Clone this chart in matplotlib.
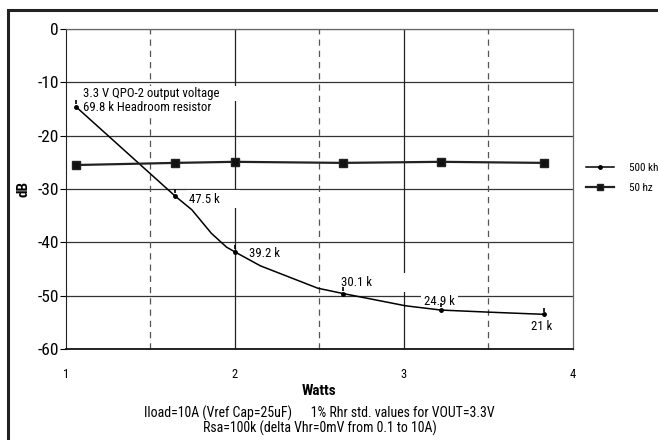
import matplotlib
matplotlib.use("Agg")
import matplotlib.pyplot as plt
from matplotlib.patches import Rectangle
from matplotlib.lines import Line2D

plt.rcParams['font.family'] = ['Roboto Condensed', 'DejaVu Sans']
plt.rcParams['axes.unicode_minus'] = False

# 500 kh curve as traced (line vertices) and its marked points
curve_x = [1.06, 1.645, 1.745, 1.86, 1.95, 2.0, 2.15, 2.49, 2.64, 3.01, 3.22, 3.51, 3.83]
curve_y = [-14.6, -31.3, -33.9, -38.3, -40.9, -41.8, -44.4, -48.6, -49.6, -51.9, -52.7, -53.1, -53.5]
pts_x = [1.06, 1.645, 2.0, 2.64, 3.22, 3.83]
pts_y = [-14.6, -31.3, -41.8, -49.6, -52.7, -53.5]
labels = ["", "47.5 k", "39.2 k", "30.1 k", "24.9 k", "21 k"]

# 50 hz series
hz_x = [1.06, 1.645, 2.0, 2.64, 3.22, 3.83]
hz_y = [-25.5, -25.1, -24.9, -25.1, -24.9, -25.1]

fig = plt.figure(figsize=(6.58, 4.4), dpi=100)
ax = fig.add_axes([0.1003, 0.2068, 0.7705, 0.7272])

# outer frame
fig.patches.append(Rectangle((8/658, -0.1), 1.2, 1 - 10/440 + 0.1, transform=fig.transFigure,
                             fill=False, ec="#222222", lw=2.2))

ax.set_xlim(1, 4)
ax.set_ylim(-60, 0)
ax.set_yticks(range(-60, 1, 10))
ax.set_xticks([1, 2, 3, 4])

for y in range(-50, 1, 10):
    ax.axhline(y, color="#777777" if y == 0 else "#333333", lw=0.9, zorder=1)
for x in [2, 3]:
    ax.axvline(x, color="#222222", lw=0.9, zorder=1)
for x in [1.5, 2.5, 3.5]:
    ax.axvline(x, color="#555555", lw=0.9, ls=(0, (5, 4)), zorder=1)

for s in ["top", "right"]:
    ax.spines[s].set_color("#666666")
    ax.spines[s].set_linewidth(0.9)
ax.spines["left"].set_color("#222222")
ax.spines["bottom"].set_color("#111111")
ax.spines["bottom"].set_linewidth(1.3)

ax.tick_params(axis="y", length=4, width=0.8, labelsize=12.5, pad=1)
ax.tick_params(axis="x", length=0, labelsize=9, pad=14)

ax.plot(curve_x, curve_y, color="black", lw=1.1, zorder=3)
ax.plot(pts_x, pts_y, ls="none", marker="o", ms=2.5, color="black", zorder=4)
# small tick drawn above each marked point, as in the source chart
ax.plot(pts_x, [v + 0.9 for v in pts_y], ls="none", marker="|", ms=2.5, mew=1.2, color="black", zorder=4)
ax.plot(hz_x, hz_y, color="#222222", lw=1.6, marker="s", ms=6, mfc="#111111", zorder=3)

box = dict(fc="white", ec="none", pad=1)
ax.text(1.1, -12.1, "3.3 V QPO-2 output voltage" + " " * 8, fontsize=9.2, va="center", zorder=2.5, bbox=box)
ax.text(1.1, -14.7, "69.8 k Headroom resistor", fontsize=9.2, va="center", zorder=2, bbox=box)
offs = [None, (0.085, -0.6), (0.085, -0.2), (-0.01, 2.1), (-0.1, 1.6), (-0.08, -2.3)]
pads = [0, 6, 0, 12, 0, 0]
for px, py, lab, off, n in zip(pts_x, pts_y, labels, offs, pads):
    if lab:
        ax.text(px + off[0], py + off[1], lab + " " * n, fontsize=9.2, va="center", ha="left",
                zorder=2, bbox=dict(fc="white", ec="none", pad=2))

ax.set_ylabel("dB", fontsize=11, fontweight="bold", labelpad=5)
ax.set_xlabel("Watts", fontsize=11, fontweight="bold", labelpad=2)

fig.text(0.486, 1 - 413/440, "Iload=10A (Vref Cap=25uF)" + " " * 6 + "1% Rhr std. values for VOUT=3.3V",
         ha="center", va="center", fontsize=10)
fig.text(0.486, 1 - 428/440, "Rsa=100k (delta Vhr=0mV from 0.1 to 10A)",
         ha="center", va="center", fontsize=10)

handles = [Line2D([], [], color="black", lw=1.1, marker="o", ms=2.5),
           Line2D([], [], color="#222222", lw=1.6, marker="s", ms=5, mfc="#111111")]
ax.legend(handles, ["500 kh", "50 hz"], loc="center left", bbox_to_anchor=(1.005, 0.535),
          frameon=False, fontsize=8, handlelength=2.6, labelspacing=0.85, handletextpad=1.3)

fig.savefig("out.png", dpi=100)
